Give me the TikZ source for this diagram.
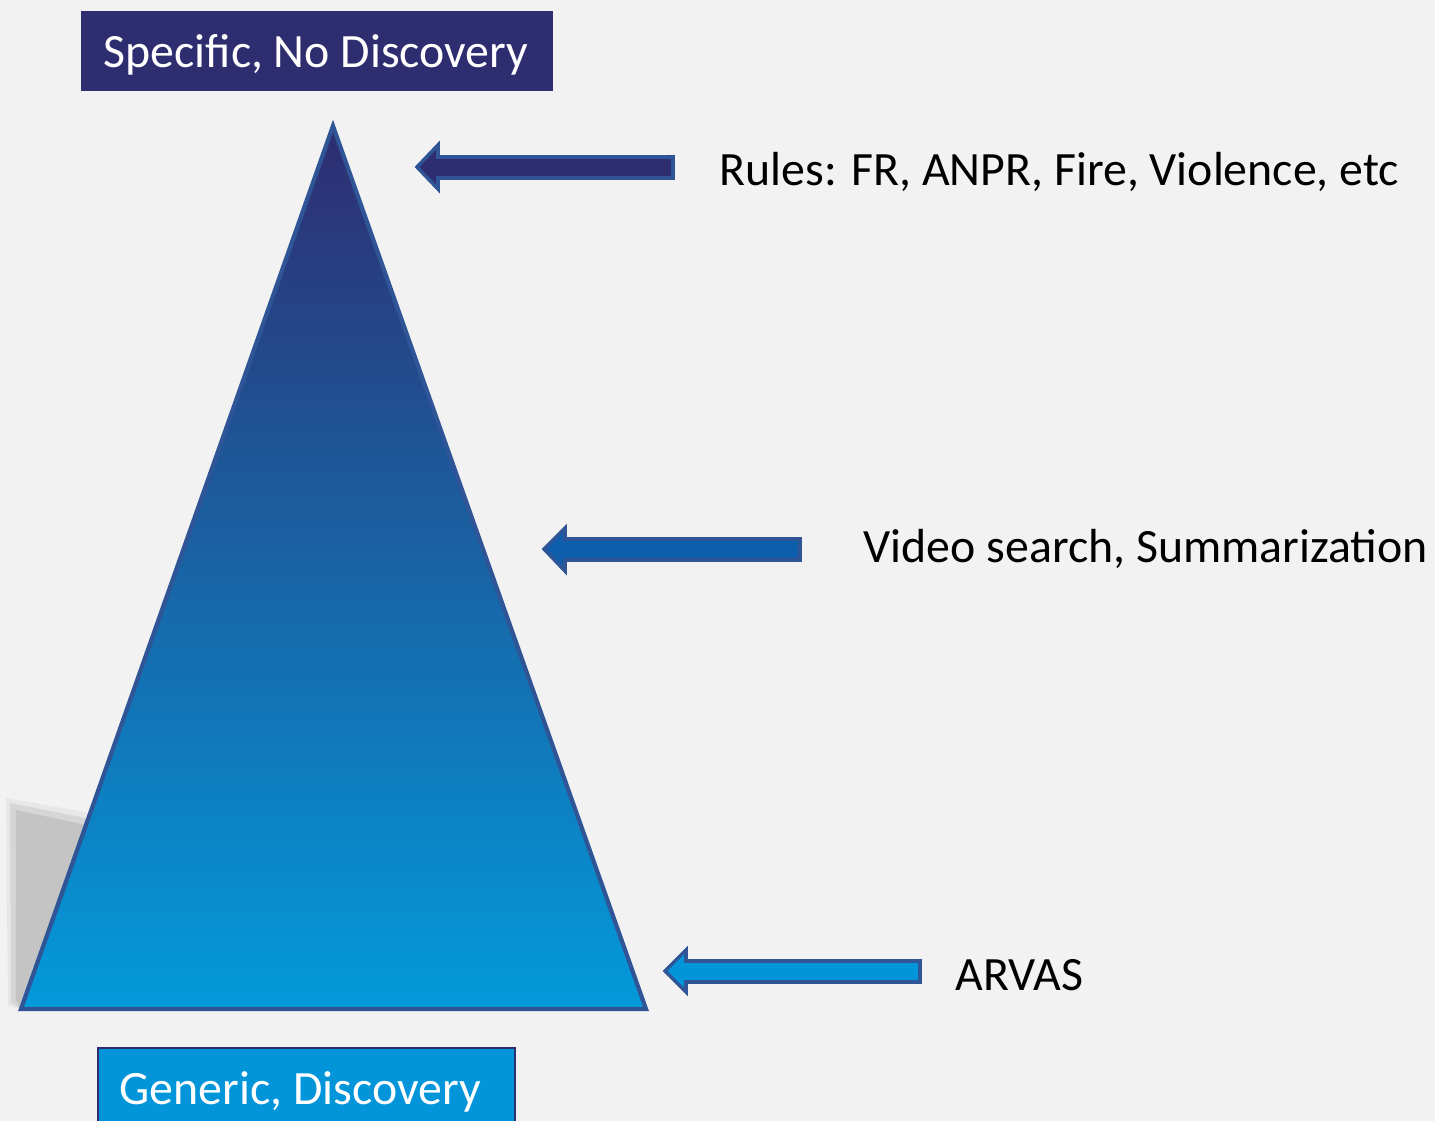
\documentclass[tikz,border=0pt]{standalone}
\usepackage{fontspec}
\setmainfont{Carlito}
\usepackage{xcolor}
\definecolor{bgGray}{RGB}{242,242,242}
\definecolor{navy}{RGB}{46,45,112}
\definecolor{midBlue}{RGB}{14,94,172}
\definecolor{skyBlue}{RGB}{3,149,217}
\definecolor{edgeBlue}{RGB}{47,85,151}
\definecolor{shadowGray}{RGB}{196,196,196}

\begin{document}
\begin{tikzpicture}[x=0.01cm, y=-0.01cm, font=\fontsize{13.6}{16}\selectfont]
  \fill[bgGray] (0, 0) rectangle (1435, 1121);
  \useasboundingbox (0, 0) rectangle (1435, 1121);
  % shadow behind the pyramid
  \fill[shadowGray!40] (6, 798) -- (96, 814) -- (21, 1009) -- (8, 1006) -- cycle;
  \fill[shadowGray!70] (10, 803) -- (91, 819) -- (21, 1009) -- (11, 1003) -- cycle;
  \fill[shadowGray] (16, 810) -- (86, 825) -- (21, 1009) -- (16, 1000) -- cycle;
  % pyramid
  \shade[top color=navy, middle color=midBlue, bottom color=skyBlue!95!cyan] (333, 126) -- (646, 1009) -- (21, 1009) -- cycle;
  \draw[edgeBlue, line width=1.2pt, line join=miter] (333, 126) -- (646, 1009) -- (21, 1009) -- cycle;
  % labels at top and bottom
  \fill[navy] (81, 11) rectangle (553, 91);
  \node[text=white, inner sep=0pt] (specific) at (316, 55) {Specific, No Discovery};
  \draw[fill=skyBlue, draw=navy, line width=0.8pt] (98, 1048) rectangle (515, 1130);
  \node[text=white, anchor=west, inner sep=0pt] (generic) at (119, 1092) {Generic, Discovery};
  % arrows
  \draw[edgeBlue, fill=navy, line width=1pt] (417, 167) -- (438, 145) -- (438, 157) -- (673, 157) -- (673, 178) -- (438, 178) -- (438, 189) -- cycle;
  \draw[edgeBlue, fill=midBlue, line width=1pt] (544, 549) -- (565, 528) -- (565, 539) -- (800, 539) -- (800, 560) -- (565, 560) -- (565, 571) -- cycle;
  \draw[edgeBlue, fill=skyBlue, line width=1pt] (665, 971) -- (686, 950) -- (686, 961) -- (920, 961) -- (920, 982) -- (686, 982) -- (686, 992) -- cycle;
  \node[anchor=west, inner sep=0pt] (rules) at (719, 172) {Rules: FR, ANPR, Fire, Violence, etc};
  \node[anchor=west, inner sep=0pt] (video) at (863, 549) {Video search, Summarization};
  \node[anchor=west, inner sep=0pt] (arvas) at (955, 975) {ARVAS};
\end{tikzpicture}
\end{document}
